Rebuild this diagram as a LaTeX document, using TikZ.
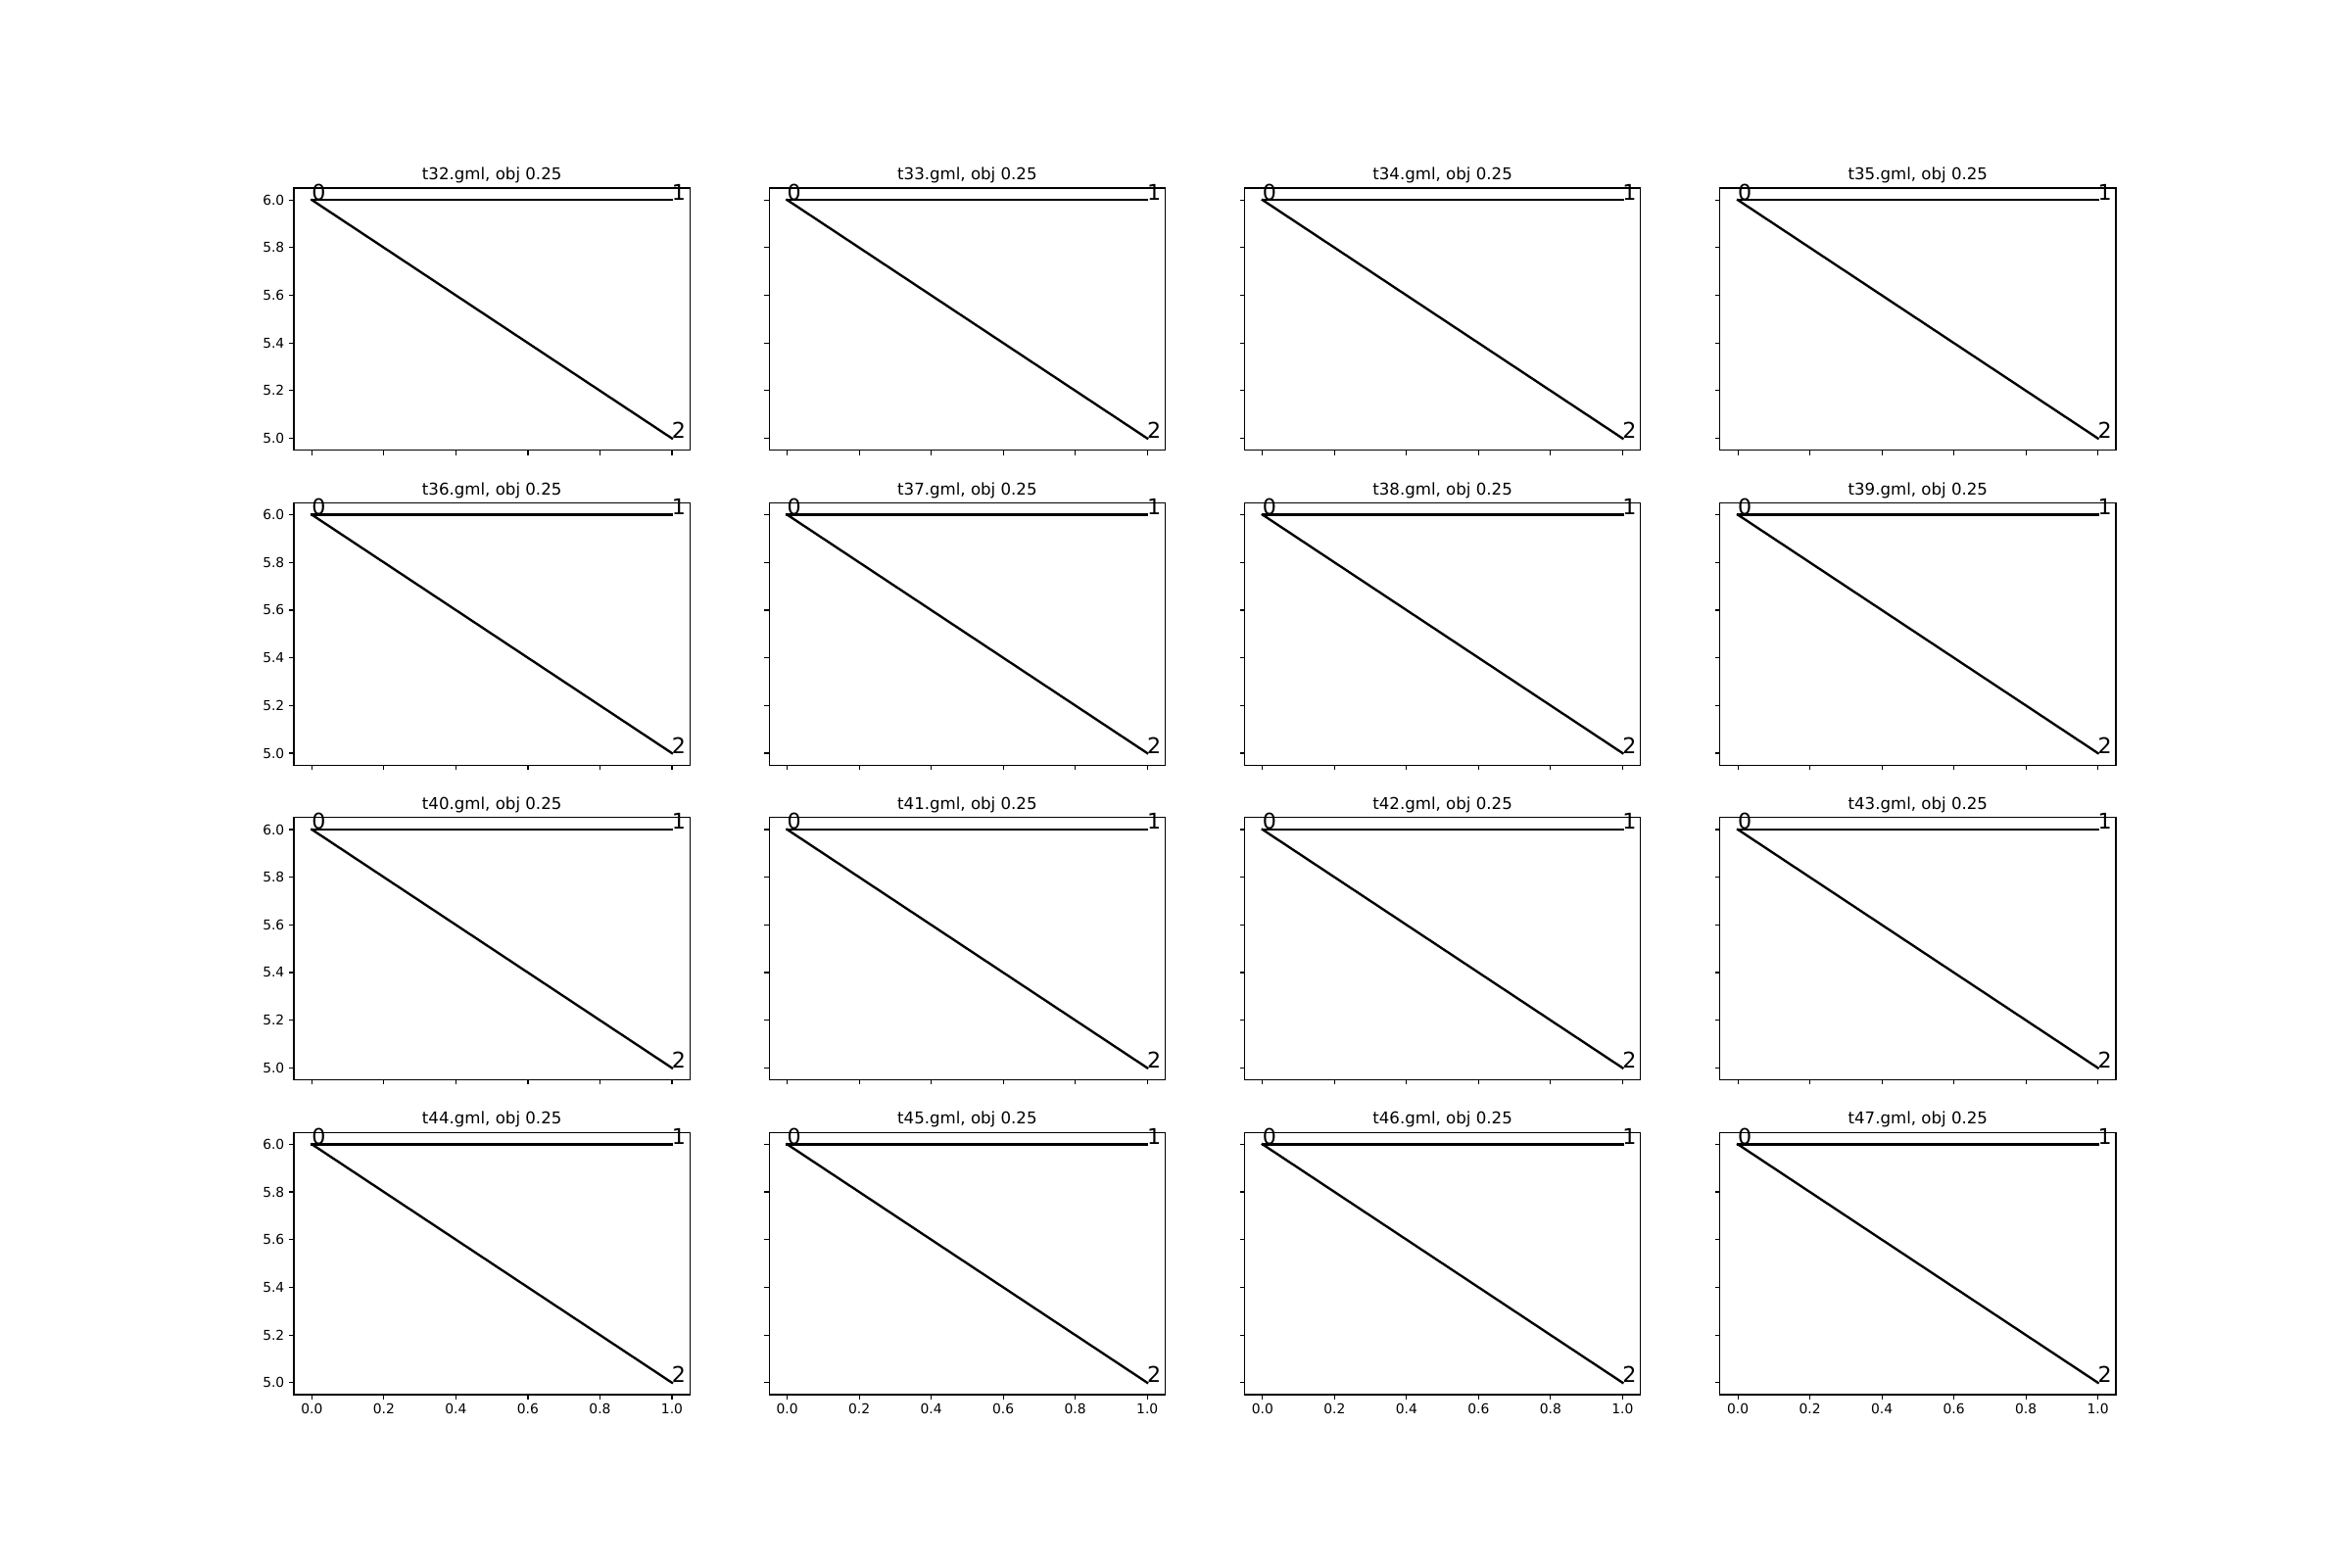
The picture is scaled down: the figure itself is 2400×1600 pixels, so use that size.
\documentclass[tikz,border=0pt]{standalone}
\usepackage{fontspec}
\setmainfont{DejaVu Sans}
\usetikzlibrary{calc}
\usetikzlibrary{positioning}

\begin{document}
\begin{tikzpicture}[x=0.01in, y=-0.01in]
    \tikzset{
        every node/.style={inner sep=0pt, outer sep=0pt},
        spine/.style={line width=0.8pt},
        tick/.style={line width=0.8pt},
        ticklabel/.style={font=\fontsize{10}{12}\selectfont},
        paneltitle/.style={font=\fontsize{12}{14}\selectfont, anchor=base},
        vlabel/.style={font=\fontsize{16}{19}\selectfont, anchor=base west},
        edge/.style={line width=1.7pt, line cap=rect, line join=round}
    }

    % page size
    \useasboundingbox (0,0) rectangle (2400,1600);

    % one panel per file
    \foreach \r in {0,...,3}{
        \foreach \c in {0,...,3}{
            \pgfmathtruncatemacro{\idx}{32+4*\r+\c}
            \begin{scope}[shift={(300+485.22*\c,192+321.39*\r)}]
                % node positions
                \coordinate (n\idx-0) at (18.38,12.17);
                \coordinate (n\idx-1) at (385.97,12.17);
                \coordinate (n\idx-2) at (385.97,255.62);

                % draw edges
                \draw[edge] (n\idx-0) -- (n\idx-1);
                \draw[edge] (n\idx-0) -- (n\idx-2);

                % node labels
                \node[vlabel] (l\idx-0) at (n\idx-0) {0};
                \node[vlabel] (l\idx-1) at (n\idx-1) {1};
                \node[vlabel] (l\idx-2) at (n\idx-2) {2};

                % draw axis box and ticks
                \draw[spine] (0,0) rectangle (404.35,267.8);
                \foreach \k/\xl/\yl in {0/0.0/5.0, 1/0.2/5.2, 2/0.4/5.4, 3/0.6/5.6, 4/0.8/5.8, 5/1.0/6.0}{
                    \draw[tick] (18.38+73.52*\k,267.8) -- ++(0,4.86);
                    \draw[tick] (0,255.62-48.69*\k) -- ++(-4.86,0);
                    \ifnum\r=3
                        \node[ticklabel, anchor=north] at (18.38+73.52*\k,277.52) {\xl};
                    \fi
                    \ifnum\c=0
                        \node[ticklabel, anchor=east] at (-9.72,255.62-48.69*\k) {\yl};
                    \fi
                }

                % title
                \node[paneltitle] (t\idx) at (202.17,-8.33) {t\idx.gml, obj 0.25};
            \end{scope}
        }
    }
\end{tikzpicture}
\end{document}
